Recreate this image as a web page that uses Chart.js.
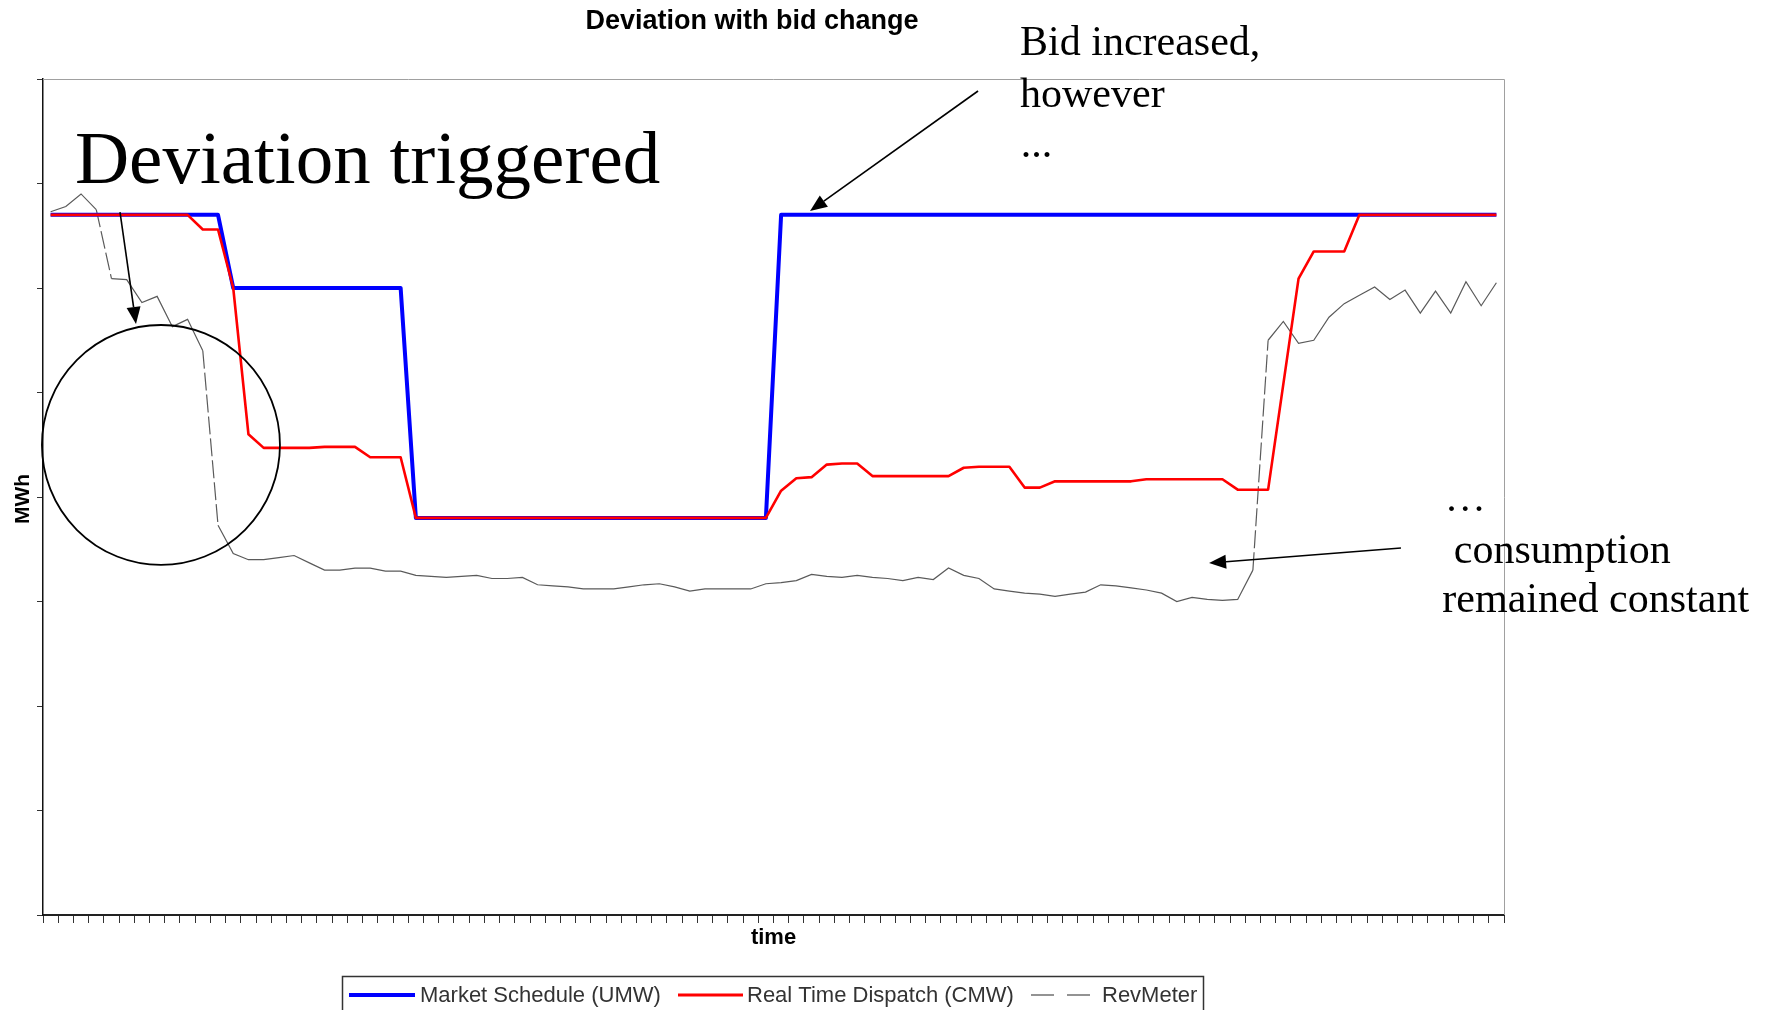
<!DOCTYPE html>
<html>
<head>
<meta charset="utf-8">
<script src="https://cdn.jsdelivr.net/npm/chart.js@4.4.0/dist/chart.umd.min.js"></script>
<style>
html,body{margin:0;padding:0;background:#fff;overflow:hidden}
canvas{display:block}
</style>
</head>
<body>
<canvas id="c" width="1776" height="1010"></canvas>
<script>
// ---- Data ----
const timeLabels = [
"00:00","00:15","00:30","00:45","01:00","01:15","01:30","01:45","02:00","02:15","02:30","02:45",
"03:00","03:15","03:30","03:45","04:00","04:15","04:30","04:45","05:00","05:15","05:30","05:45",
"06:00","06:15","06:30","06:45","07:00","07:15","07:30","07:45","08:00","08:15","08:30","08:45",
"09:00","09:15","09:30","09:45","10:00","10:15","10:30","10:45","11:00","11:15","11:30","11:45",
"12:00","12:15","12:30","12:45","13:00","13:15","13:30","13:45","14:00","14:15","14:30","14:45",
"15:00","15:15","15:30","15:45","16:00","16:15","16:30","16:45","17:00","17:15","17:30","17:45",
"18:00","18:15","18:30","18:45","19:00","19:15","19:30","19:45","20:00","20:15","20:30","20:45",
"21:00","21:15","21:30","21:45","22:00","22:15","22:30","22:45","23:00","23:15","23:30","23:45"
];

const marketSchedule = [
6.7,6.7,6.7,6.7,6.7,6.7,6.7,6.7,6.7,6.7,6.7,6.7,
6.0,6.0,6.0,6.0,6.0,6.0,6.0,6.0,6.0,6.0,6.0,6.0,
3.8,3.8,3.8,3.8,3.8,3.8,3.8,3.8,3.8,3.8,3.8,3.8,
3.8,3.8,3.8,3.8,3.8,3.8,3.8,3.8,3.8,3.8,3.8,3.8,
6.7,6.7,6.7,6.7,6.7,6.7,6.7,6.7,6.7,6.7,6.7,6.7,
6.7,6.7,6.7,6.7,6.7,6.7,6.7,6.7,6.7,6.7,6.7,6.7,
6.7,6.7,6.7,6.7,6.7,6.7,6.7,6.7,6.7,6.7,6.7,6.7,
6.7,6.7,6.7,6.7,6.7,6.7,6.7,6.7,6.7,6.7,6.7,6.7
];

const realTimeDispatch = [
6.7,6.7,6.7,6.7,6.7,6.7,6.7,6.7,6.7,6.7,6.56,6.56,
6.0,4.6,4.47,4.47,4.47,4.47,4.48,4.48,4.48,4.38,4.38,4.38,
3.8,3.8,3.8,3.8,3.8,3.8,3.8,3.8,3.8,3.8,3.8,3.8,
3.8,3.8,3.8,3.8,3.8,3.8,3.8,3.8,3.8,3.8,3.8,3.8,
4.06,4.18,4.19,4.31,4.32,4.32,4.2,4.2,4.2,4.2,4.2,4.2,
4.28,4.29,4.29,4.29,4.09,4.09,4.15,4.15,4.15,4.15,4.15,4.15,
4.17,4.17,4.17,4.17,4.17,4.17,4.07,4.07,4.07,5.08,6.09,6.35,
6.35,6.35,6.7,6.7,6.7,6.7,6.7,6.7,6.7,6.7,6.7,6.7
];

const revMeter = [
6.73,6.78,6.9,6.75,6.09,6.08,5.86,5.92,5.63,5.7,5.4,3.73,
3.46,3.4,3.4,3.42,3.44,3.37,3.3,3.3,3.32,3.32,3.29,3.29,
3.25,3.24,3.23,3.24,3.25,3.22,3.22,3.23,3.16,3.15,3.14,3.12,
3.12,3.12,3.14,3.16,3.17,3.14,3.1,3.12,3.12,3.12,3.12,3.17,
3.18,3.2,3.26,3.24,3.23,3.25,3.23,3.22,3.2,3.23,3.21,3.32,
3.25,3.22,3.12,3.1,3.08,3.07,3.05,3.07,3.09,3.16,3.15,3.13,
3.11,3.08,3.0,3.04,3.02,3.01,3.02,3.3,5.5,5.68,5.47,5.5,
5.72,5.85,5.93,6.01,5.89,5.98,5.76,5.97,5.76,6.06,5.83,6.05
];

const seriesNames = ["Market Schedule (UMW)", "Real Time Dispatch (CMW)", "RevMeter"];
const yTicks = [0,1,2,3,4,5,6,7,8];

// Annotations placed in data units (category index, MWh value)
const noteTexts = [
  {text:"Deviation triggered", i:1.6, v:7.005, size:75},
  {text:"Bid increased,", i:63.7, v:8.23, size:42},
  {text:"however", i:63.7, v:7.73, size:42},
  {text:"...", i:63.75, v:7.25, size:42},
  {text:"\u2026", i:91.6, v:3.87, size:41},
  {text:"consumption", i:92.2, v:3.37, size:42},
  {text:"remained constant", i:91.45, v:2.90, size:42}
];
const noteArrows = [
  {i0:4.56, v0:6.727, i1:5.61, v1:5.656},
  {i0:60.94, v0:7.885, i1:49.9, v1:6.737},
  {i0:88.73, v0:3.512, i1:76.12, v1:3.368}
];
const noteCircle = {i:7.25, v:4.498, ri:7.82, rv:1.148};

// ---- Plugin for frame, annotations, titles and legend ----
const decor = {
  id: 'decor',
  beforeDatasetsDraw(chart) {
    const {ctx, chartArea: a} = chart;
    ctx.save();
    ctx.strokeStyle = '#a0a0a0';
    ctx.lineWidth = 1;
    ctx.beginPath();
    ctx.moveTo(a.left, a.top + 0.5);
    ctx.lineTo(a.right + 0.5, a.top + 0.5);
    ctx.lineTo(a.right + 0.5, a.bottom);
    ctx.stroke();
    ctx.restore();
  },
  afterDraw(chart) {
    const {ctx, chartArea: a} = chart;
    const xs = chart.scales.x, ys = chart.scales.y;
    const px = i => xs.getPixelForValue(i);
    const py = v => ys.getPixelForValue(v);
    ctx.save();

    // chart title
    ctx.fillStyle = '#000';
    ctx.font = 'bold 27px "Liberation Sans", Arial, sans-serif';
    ctx.textAlign = 'center';
    ctx.textBaseline = 'alphabetic';
    ctx.fillText('Deviation with bid change', 752, 29);

    // axis titles
    ctx.font = 'bold 22px "Liberation Sans", Arial, sans-serif';
    ctx.fillText('time', (a.left + a.right) / 2, 944);
    ctx.save();
    ctx.translate(29, 499);
    ctx.rotate(-Math.PI / 2);
    ctx.font = 'bold 21px "Liberation Sans", Arial, sans-serif';
    ctx.fillText('MWh', 0, 0);
    ctx.restore();

    // circle
    ctx.strokeStyle = '#000';
    ctx.lineWidth = 1.8;
    ctx.beginPath();
    const cx = px(noteCircle.i), cy = py(noteCircle.v);
    const rx = px(noteCircle.i + noteCircle.ri) - cx;
    const ry = cy - py(noteCircle.v + noteCircle.rv);
    ctx.ellipse(cx, cy, rx, ry, 0, 0, Math.PI * 2);
    ctx.stroke();

    // arrows
    noteArrows.forEach(ar => {
      const x0 = px(ar.i0), y0 = py(ar.v0), x1 = px(ar.i1), y1 = py(ar.v1);
      const ang = Math.atan2(y1 - y0, x1 - x0);
      const hl = 17, hw = 7;
      const bx = x1 - hl * Math.cos(ang), by = y1 - hl * Math.sin(ang);
      ctx.lineWidth = 1.6;
      ctx.beginPath();
      ctx.moveTo(x0, y0);
      ctx.lineTo(bx, by);
      ctx.stroke();
      ctx.beginPath();
      ctx.moveTo(x1, y1);
      ctx.lineTo(bx + hw * Math.sin(ang), by - hw * Math.cos(ang));
      ctx.lineTo(bx - hw * Math.sin(ang), by + hw * Math.cos(ang));
      ctx.closePath();
      ctx.fill();
    });

    // annotation texts
    ctx.textAlign = 'left';
    ctx.textBaseline = 'alphabetic';
    noteTexts.forEach(t => {
      ctx.font = t.size + 'px "Liberation Serif", "Times New Roman", serif';
      ctx.fillText(t.text, px(t.i), py(t.v));
    });

    // legend
    ctx.strokeStyle = '#333';
    ctx.lineWidth = 1.5;
    ctx.strokeRect(342.5, 976.5, 861, 60);
    const ly = 995;
    const items = [
      {x0:349, x1:415, tx:420, color:'#0000ff', w:4, dash:[]},
      {x0:678, x1:743, tx:747, color:'#ff0000', w:3, dash:[]},
      {x0:1031, x1:1090, tx:1102, color:'#707070', w:1.5, dash:[23,13]}
    ];
    ctx.font = '22px "Liberation Sans", Arial, sans-serif';
    ctx.textBaseline = 'middle';
    items.forEach((it, k) => {
      ctx.strokeStyle = it.color;
      ctx.lineWidth = it.w;
      ctx.setLineDash(it.dash);
      ctx.beginPath();
      ctx.moveTo(it.x0, ly);
      ctx.lineTo(it.x1, ly);
      ctx.stroke();
      ctx.setLineDash([]);
      ctx.fillStyle = '#333';
      ctx.fillText(seriesNames[k], it.tx, ly + 1);
    });
    ctx.restore();
  }
};

const ctx = document.getElementById('c').getContext('2d');
new Chart(ctx, {
  type: 'line',
  data: {
    labels: timeLabels,
    datasets: [
      {
        label: seriesNames[0], data: marketSchedule,
        borderColor: '#0000ff', borderWidth: 4, pointRadius: 0, tension: 0,
        borderJoinStyle: 'round', fill: false, order: 1
      },
      {
        label: seriesNames[1], data: realTimeDispatch,
        borderColor: '#ff0000', borderWidth: 2.6, pointRadius: 0, tension: 0,
        borderJoinStyle: 'round', fill: false, order: 0
      },
      {
        label: seriesNames[2], data: revMeter,
        borderColor: '#5a5a5a', borderWidth: 1.2, pointRadius: 0, tension: 0,
        borderDash: [], fill: false, order: 2,
        segment: {
          borderDash: c => (Math.hypot(c.p1.x - c.p0.x, c.p1.y - c.p0.y) > 50 ? [18, 4] : undefined)
        }
      }
    ]
  },
  options: {
    responsive: false,
    animation: false,
    devicePixelRatio: 1,
    layout: { padding: { left: 37, right: 272, top: 79, bottom: 87 } },
    plugins: {
      legend: { display: false },
      title: { display: false },
      tooltip: { enabled: false }
    },
    scales: {
      x: {
        type: 'category',
        offset: true,
        ticks: { display: false, autoSkip: false },
        grid: { offset: true, drawOnChartArea: false, drawTicks: true, tickLength: 8, color: '#333', lineWidth: 1 },
        border: { display: true, color: '#222', width: 2 }
      },
      y: {
        min: yTicks[0], max: yTicks[yTicks.length - 1],
        ticks: { display: false, stepSize: 1 },
        grid: { drawOnChartArea: false, drawTicks: true, tickLength: 6, color: '#333', lineWidth: 1 },
        border: { display: true, color: '#111', width: 1.5 }
      }
    }
  },
  plugins: [decor]
});
</script>
</body>
</html>
